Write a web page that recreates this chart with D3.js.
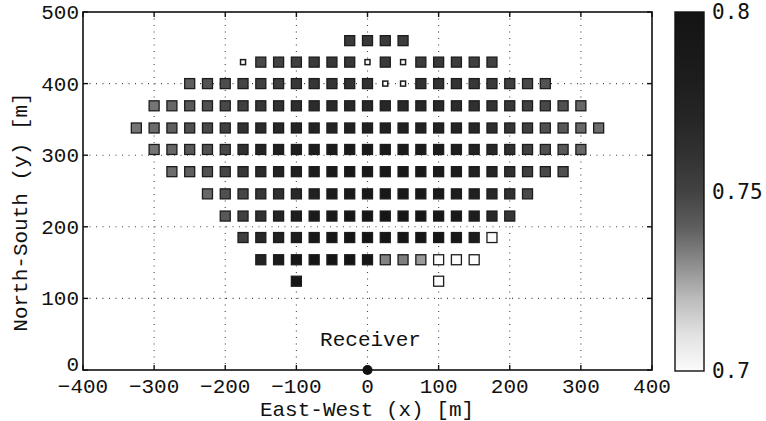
<!DOCTYPE html>
<html><head><meta charset="utf-8">
<script src="https://cdn.jsdelivr.net/npm/d3@7"></script>
<style>body{margin:0;background:#fff}</style>
</head><body><svg id="c" width="766" height="421"></svg>
<script>
const _ = null;
// Heliostat grid: column positions (East-West, m) and row positions (North-South, m)
const columnsX = [-325,-300,-275,-250,-225,-200,-175,-150,-125,-100,-75,-50,-25,0,25,50,75,100,125,150,175,200,225,250,275,300,325];
const rowsY = [460,430,400,369,338,308,277,246,215,185,154,124];
// Efficiency per heliostat (null = no full-size heliostat)
const efficiency = [
 [_,_,_,_,_,_,_,_,_,_,_,_,.755,.756,.755,.753,_,_,_,_,_,_,_,_,_,_,_],
 [_,_,_,_,_,_,_,.748,.750,.752,.755,.757,.757,_,.755,_,.754,.756,.754,.752,.750,_,_,_,_,_,_],
 [_,_,_,.740,.744,.746,.749,.752,.753,.756,.758,.759,.760,.760,_,_,.761,.761,.759,.757,.755,.752,.748,.744,_,_,_],
 [_,.735,.738,.742,.745,.748,.752,.757,.760,.763,.765,.767,.768,.769,.769,.768,.768,.767,.765,.762,.760,.757,.752,.748,.745,.738,_],
 [.735,.737,.740,.745,.748,.752,.760,.766,.769,.771,.773,.774,.775,.776,.776,.775,.775,.774,.772,.768,.763,.758,.752,.745,.742,.738,.737],
 [_,.735,.738,.742,.745,.748,.762,.772,.777,.780,.782,.784,.785,.786,.786,.785,.784,.782,.780,.774,.768,.762,.752,.745,.742,.738,_],
 [_,_,.737,.740,.745,.749,.757,.766,.774,.779,.783,.785,.787,.788,.788,.787,.786,.784,.781,.776,.770,.762,.752,.748,.745,_,_],
 [_,_,_,_,.738,.745,.749,.757,.762,.768,.776,.782,.786,.789,.790,.790,.789,.787,.784,.778,.768,.762,.748,_,_,_,_],
 [_,_,_,_,_,.742,.752,.762,.773,.780,.785,.789,.792,.794,.795,.795,.794,.792,.788,.782,.768,.758,_,_,_,_,_],
 [_,_,_,_,_,_,.752,.768,.775,.782,.788,.792,.795,.797,.797,.796,.795,.793,.790,.782,.700,_,_,_,_,_,_],
 [_,_,_,_,_,_,_,.775,.785,.792,.795,.797,.797,.796,.732,.733,.727,.700,.700,.700,_,_,_,_,_,_,_],
 [_,_,_,_,_,_,_,_,_,.796,_,_,_,_,_,_,_,.700,_,_,_,_,_,_,_,_,_]
];
// Small (blocked) heliostats
const smallX = [-175, 0, 50, 25, 50];
const smallY = [430, 430, 430, 400, 400];
const xTicks = [-400,-300,-200,-100,0,100,200,300,400];
const yTicks = [0,100,200,300,400,500];
const cbTicks = [0.7, 0.75, 0.8];
const cbTickLabels = ["0.7", "0.75", "0.8"];
const colorDomain = [0.70,0.71,0.72,0.73,0.74,0.75,0.76,0.77,0.78,0.79,0.80];
const colorRange = ["#fbfbfb","#e2e2e2","#bcbcbc","#8c8c8c","#5e5e5e","#424242","#323232","#262626","#1e1e1e","#181818","#141414"];

const svg = d3.select("#c");
svg.append("rect").attr("width",766).attr("height",421).attr("fill","#fff");
const L = 83, R = 652, T = 12, B = 370;
const x = d3.scaleLinear().domain([-400,400]).range([L,R]);
const y = d3.scaleLinear().domain([0,500]).range([B,T]);
const color = d3.scaleLinear().domain(colorDomain).range(colorRange).clamp(true);
const mono = "'Liberation Mono','Courier New',monospace";

// grid
const grid = svg.append("g").attr("stroke","#444").attr("stroke-width",1.1).attr("stroke-dasharray","1,5.5");
xTicks.slice(1,-1).forEach(t => grid.append("line").attr("x1",x(t)).attr("x2",x(t)).attr("y1",T).attr("y2",B));
yTicks.slice(1,-1).forEach(t => grid.append("line").attr("x1",L).attr("x2",R).attr("y1",y(t)).attr("y2",y(t)));

// heliostats
const cells = [];
efficiency.forEach((row,i) => row.forEach((v,j) => { if (v !== null) cells.push({x:columnsX[j], y:rowsY[i], v}); }));
const S = 10;
svg.append("g").selectAll("rect").data(cells).join("rect")
  .attr("x",d => x(d.x)-S/2).attr("y",d => y(d.y)-S/2).attr("width",S).attr("height",S)
  .attr("fill",d => color(d.v)).attr("stroke","#1c1c1c").attr("stroke-width",1.3);
const s = 5;
svg.append("g").selectAll("rect").data(smallX.map((v,i)=>({x:v,y:smallY[i]}))).join("rect")
  .attr("x",d => x(d.x)-s/2).attr("y",d => y(d.y)-s/2).attr("width",s).attr("height",s)
  .attr("fill","#fff").attr("stroke","#1c1c1c").attr("stroke-width",1.5);

// receiver
svg.append("circle").attr("cx",x(0)).attr("cy",y(0)).attr("r",5).attr("fill","#111");
svg.append("text").attr("x",x(0)+3).attr("y",y(33)).attr("text-anchor","middle")
  .attr("font-family",mono).attr("font-size",21).attr("fill","#111").text("Receiver");

// frame
svg.append("rect").attr("x",L).attr("y",T).attr("width",R-L).attr("height",B-T)
  .attr("fill","none").attr("stroke","#111").attr("stroke-width",1.6);
const tk = svg.append("g").attr("stroke","#111").attr("stroke-width",1.4);
xTicks.forEach(t => {
  tk.append("line").attr("x1",x(t)).attr("x2",x(t)).attr("y1",B).attr("y2",B-5);
  tk.append("line").attr("x1",x(t)).attr("x2",x(t)).attr("y1",T).attr("y2",T+5);
});
yTicks.forEach(t => {
  tk.append("line").attr("x1",L).attr("x2",L+5).attr("y1",y(t)).attr("y2",y(t));
  tk.append("line").attr("x1",R).attr("x2",R-5).attr("y1",y(t)).attr("y2",y(t));
});

// tick labels
svg.append("g").selectAll("text").data(xTicks).join("text")
  .attr("x",d => x(d)).attr("y",B+23).attr("text-anchor","middle")
  .attr("font-family",mono).attr("font-size",21).attr("fill","#111").text(d => d === 0 ? "0" : String(d).replace("-","\u2212"));
svg.append("g").selectAll("text").data(yTicks).join("text")
  .attr("x",L-4).attr("y",d => y(d) + (d === 0 ? 1 : 7)).attr("text-anchor","end")
  .attr("font-family",mono).attr("font-size",21).attr("fill","#111").text(d => d);

// axis titles
svg.append("text").attr("x",367).attr("y",416).attr("text-anchor","middle")
  .attr("font-family",mono).attr("font-size",21).attr("fill","#111").text("East-West (x) [m]");
svg.append("text").attr("transform","translate(27,212) rotate(-90)").attr("text-anchor","middle")
  .attr("font-family",mono).attr("font-size",21).attr("fill","#111").text("North-South (y) [m]");

// colorbar
const cbL = 675, cbW = 29, cbT = 12, cbB = 371;
const cy = d3.scaleLinear().domain([0.7,0.8]).range([cbB,cbT]);
const grad = svg.append("defs").append("linearGradient").attr("id","cbg")
  .attr("x1",0).attr("x2",0).attr("y1",1).attr("y2",0);
colorDomain.forEach(v => grad.append("stop").attr("offset",(v-0.7)/0.1).attr("stop-color",color(v)));
svg.append("rect").attr("x",cbL).attr("y",cbT).attr("width",cbW).attr("height",cbB-cbT)
  .attr("fill","url(#cbg)").attr("stroke","#111").attr("stroke-width",1.4);
svg.append("g").selectAll("text").data(cbTicks).join("text")
  .attr("x",cbL+cbW+8).attr("y",d => cy(d)+7).attr("font-family","'DejaVu Sans Mono',monospace")
  .attr("font-size",21).attr("fill","#111").text((d,i) => cbTickLabels[i]);
</script></body></html>
